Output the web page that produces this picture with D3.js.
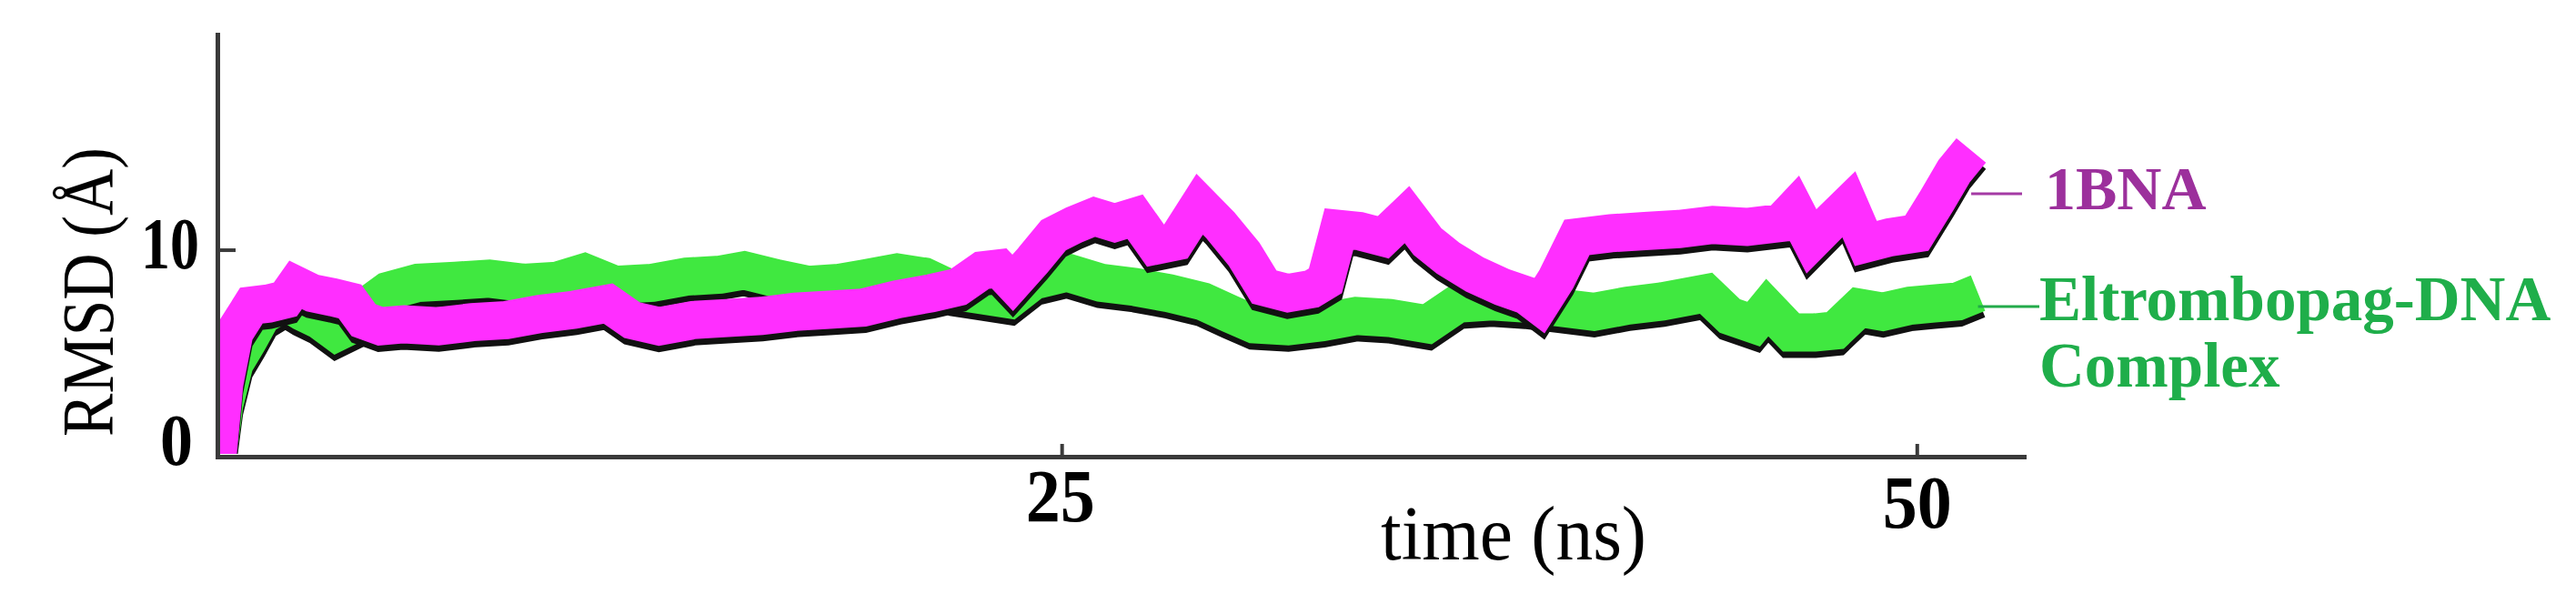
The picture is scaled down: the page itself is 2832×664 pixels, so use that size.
<!DOCTYPE html>
<html>
<head>
<meta charset="utf-8">
<script src="https://cdn.jsdelivr.net/npm/d3@7"></script>
<style>
  body { margin: 0; background: #fff; }
  .lbl { font-family: "Liberation Serif", "DejaVu Serif", serif; }
</style>
</head>
<body>
<svg id="chart" width="2832" height="664"></svg>
<script>
// time (ns) and RMSD (A)
var bnaTime = [0, 0.2, 0.5, 1.0, 1.5, 2.0, 2.3, 2.8, 3.4, 3.9, 4.3, 4.8, 5.5, 6.5, 7.5, 8.5, 9.5, 10.5, 11.5, 12.2,
  13.0, 14.0, 15.0, 16.0, 17.0, 18.0, 19.0, 20.0, 21.0, 21.8, 22.5, 23.0, 23.4, 24.0, 24.6, 25.2, 25.8, 26.4, 27.0,
  27.6, 28.2, 28.9, 29.5, 30.2, 30.8, 31.5, 32.2, 32.6, 33.0, 33.6, 34.3, 35.0, 35.6, 36.2, 37.0, 37.8, 38.5, 38.9,
  39.4, 40.0, 41.0, 42.0, 43.0, 44.0, 45.0, 46.0, 46.4, 46.9, 47.5, 48.0, 48.5, 49.2, 50.0, 50.6, 51.1, 51.6];
var bnaRmsd = [0, 3.5, 6.0, 7.3, 7.4, 7.6, 8.3, 7.9, 7.7, 7.5, 6.6, 6.3, 6.4, 6.3, 6.5, 6.6, 6.9, 7.1, 7.4, 6.6,
  6.3, 6.6, 6.7, 6.8, 7.0, 7.1, 7.2, 7.6, 7.9, 8.2, 9.0, 9.1, 8.4, 9.5, 10.7, 11.2, 11.6, 11.3, 11.6,
  10.2, 10.4, 12.2, 11.2, 9.8, 8.2, 7.9, 8.1, 8.5, 11.0, 10.9, 10.6, 11.7, 10.4, 9.6, 8.8, 8.2, 7.8, 7.3,
  8.6, 10.6, 10.8, 10.9, 11.0, 11.2, 11.1, 11.3, 12.0, 10.4, 11.4, 12.2, 10.3, 10.6, 10.8, 12.4, 13.8, 14.8];

var cplxTime = [0, 0.2, 0.5, 0.9, 1.3, 2.0, 2.5, 3.0, 3.5, 4.0, 4.5, 5.0, 5.9, 7.0, 8.0, 9.0, 10.0, 10.8, 11.7,
  12.8, 13.8, 14.8, 15.5, 16.5, 17.4, 18.3, 19.0, 20.0, 20.8, 21.7, 22.5, 23.3, 24.0, 25.0, 26.0, 27.0, 28.0,
  29.0, 29.8, 30.5, 31.5, 32.5, 33.5, 34.5, 35.6, 36.5, 37.5, 38.5, 39.5, 40.5, 41.5, 42.5, 43.8, 44.5, 45.2,
  45.6, 46.3, 47.0, 47.6, 48.3, 49.0, 49.8, 50.5, 51.2, 51.8];
var cplxRmsd = [0, 2.5, 4.5, 5.6, 6.8, 7.5, 7.0, 6.6, 6.0, 6.4, 7.4, 8.0, 8.4, 8.5, 8.6, 8.4, 8.5, 8.9, 8.3,
  8.4, 8.7, 8.8, 9.0, 8.6, 8.3, 8.4, 8.6, 8.9, 8.7, 8.0, 7.8, 7.6, 8.5, 8.9, 8.4, 8.2, 7.9,
  7.5, 6.9, 6.4, 6.3, 6.5, 6.8, 6.7, 6.4, 7.4, 7.5, 7.4, 7.2, 7.0, 7.3, 7.5, 7.9, 6.8, 6.4,
  7.2, 6.0, 6.0, 6.1, 7.2, 7.0, 7.3, 7.4, 7.5, 7.9];

var xTicks = [25, 50];
var yTicks = [0, 10];
var seriesNames = ["1BNA", "Eltrombopag-DNA", "Complex"];

var svg = d3.select("#chart");

var x = d3.scaleLinear().domain([0, 53.15]).range([239, 2225]);
var y = d3.scaleLinear().domain([0, 20.4]).range([502, 38]);

svg.append("rect").attr("width", 2832).attr("height", 664).attr("fill", "#fff");

svg.append("clipPath").attr("id", "plotclip")
  .append("rect").attr("x", 241).attr("y", 0).attr("width", 2600).attr("height", 499);

function toPoints(ts, vs) {
  return ts.map(function (t, i) { return { t: t, v: vs[i] }; });
}

var line = d3.line()
  .x(function (d) { return x(d.t); })
  .y(function (d) { return y(d.v); });

var plot = svg.append("g").attr("clip-path", "url(#plotclip)");

// thick noisy band with a dark lower edge
function band(pts, color) {
  plot.append("path")
    .attr("d", line(pts))
    .attr("fill", "none")
    .attr("stroke", "#111")
    .attr("stroke-width", 42)
    .attr("stroke-linejoin", "miter")
    .attr("stroke-miterlimit", 2)
    .attr("transform", "translate(0,7)");
  plot.append("path")
    .attr("d", line(pts))
    .attr("fill", "none")
    .attr("stroke", color)
    .attr("stroke-width", 42)
    .attr("stroke-linejoin", "miter")
    .attr("stroke-miterlimit", 2);
}

var cplx = toPoints(cplxTime, cplxRmsd);
var bna = toPoints(bnaTime, bnaRmsd);
band(cplx, "#40e840");
band(bna, "#ff2eff");

// axes
var yAxis = svg.append("g")
  .attr("transform", "translate(239,0)")
  .call(d3.axisLeft(y).tickValues(yTicks).tickSize(-20).tickSizeOuter(0).tickFormat(d3.format("d")));
yAxis.select(".domain").attr("stroke", "#3a3a3a").attr("stroke-width", 5);
yAxis.selectAll(".tick line").attr("stroke", "#3a3a3a").attr("stroke-width", 4)
  .attr("opacity", function (d) { return d === 0 ? 0 : 1; });
yAxis.selectAll(".tick text")
  .attr("class", "lbl")
  .attr("font-size", 80).attr("font-weight", "bold").attr("fill", "#000")
  .attr("x", function (d) { return d === 0 ? -27 : -20; })
  .attr("dy", function (d) { return d === 0 ? "0.1em" : "0.25em"; })
  .attr("textLength", function (d) { return d === 0 ? 36 : 64; })
  .attr("lengthAdjust", "spacingAndGlyphs");

var xAxis = svg.append("g")
  .attr("transform", "translate(0,502)")
  .call(d3.axisBottom(x).tickValues(xTicks).tickSize(-14).tickSizeOuter(0).tickFormat(d3.format("d")));
xAxis.select(".domain").attr("stroke", "#3a3a3a").attr("stroke-width", 5);
xAxis.selectAll(".tick line").attr("stroke", "#3a3a3a").attr("stroke-width", 4)
  .attr("transform", function (d) { return "translate(" + (d === 25 ? -6 : 0) + ",0)"; });
xAxis.selectAll(".tick text")
  .attr("class", "lbl")
  .attr("font-size", 82).attr("font-weight", "bold").attr("fill", "#000")
  .attr("y", function (d) { return d === 25 ? 71 : 78; })
  .attr("x", function (d) { return d === 25 ? -8 : 0; })
  .attr("dy", 0)
  .attr("textLength", 76)
  .attr("lengthAdjust", "spacingAndGlyphs");
svg.selectAll(".domain").attr("stroke-linecap", "square");

// axis titles
svg.append("text").attr("class", "lbl")
  .attr("x", 1664).attr("y", 615)
  .attr("text-anchor", "middle")
  .attr("font-size", 84)
  .attr("textLength", 292)
  .attr("lengthAdjust", "spacingAndGlyphs")
  .text("time (ns)");

svg.append("text").attr("class", "lbl")
  .attr("transform", "translate(124,321) rotate(-90)")
  .attr("text-anchor", "middle")
  .attr("font-size", 80)
  .attr("textLength", 318)
  .attr("lengthAdjust", "spacingAndGlyphs")
  .text("RMSD  (Å)");

// legend labels with leader lines
var bnaEnd = bna[bna.length - 1];
var cplxEnd = cplx[cplx.length - 1];
svg.append("line")
  .attr("x1", x(bnaEnd.t)).attr("x2", 2223).attr("y1", 213).attr("y2", 213)
  .attr("stroke", "#a43aa4").attr("stroke-width", 3);
svg.append("line")
  .attr("x1", x(cplxEnd.t)).attr("x2", 2242).attr("y1", 337).attr("y2", 337)
  .attr("stroke", "#22aa4a").attr("stroke-width", 3);

svg.append("text").attr("class", "lbl")
  .attr("x", 2248).attr("y", 230)
  .attr("font-size", 68).attr("font-weight", "bold").attr("fill", "#9c309c")
  .text(seriesNames[0]);
svg.append("text").attr("class", "lbl")
  .attr("x", 2242).attr("y", 352)
  .attr("font-size", 69).attr("font-weight", "bold").attr("fill", "#1fae4a")
  .text(seriesNames[1]);
svg.append("text").attr("class", "lbl")
  .attr("x", 2242).attr("y", 425)
  .attr("font-size", 69).attr("font-weight", "bold").attr("fill", "#1fae4a")
  .text(seriesNames[2]);
</script>
</body>
</html>
